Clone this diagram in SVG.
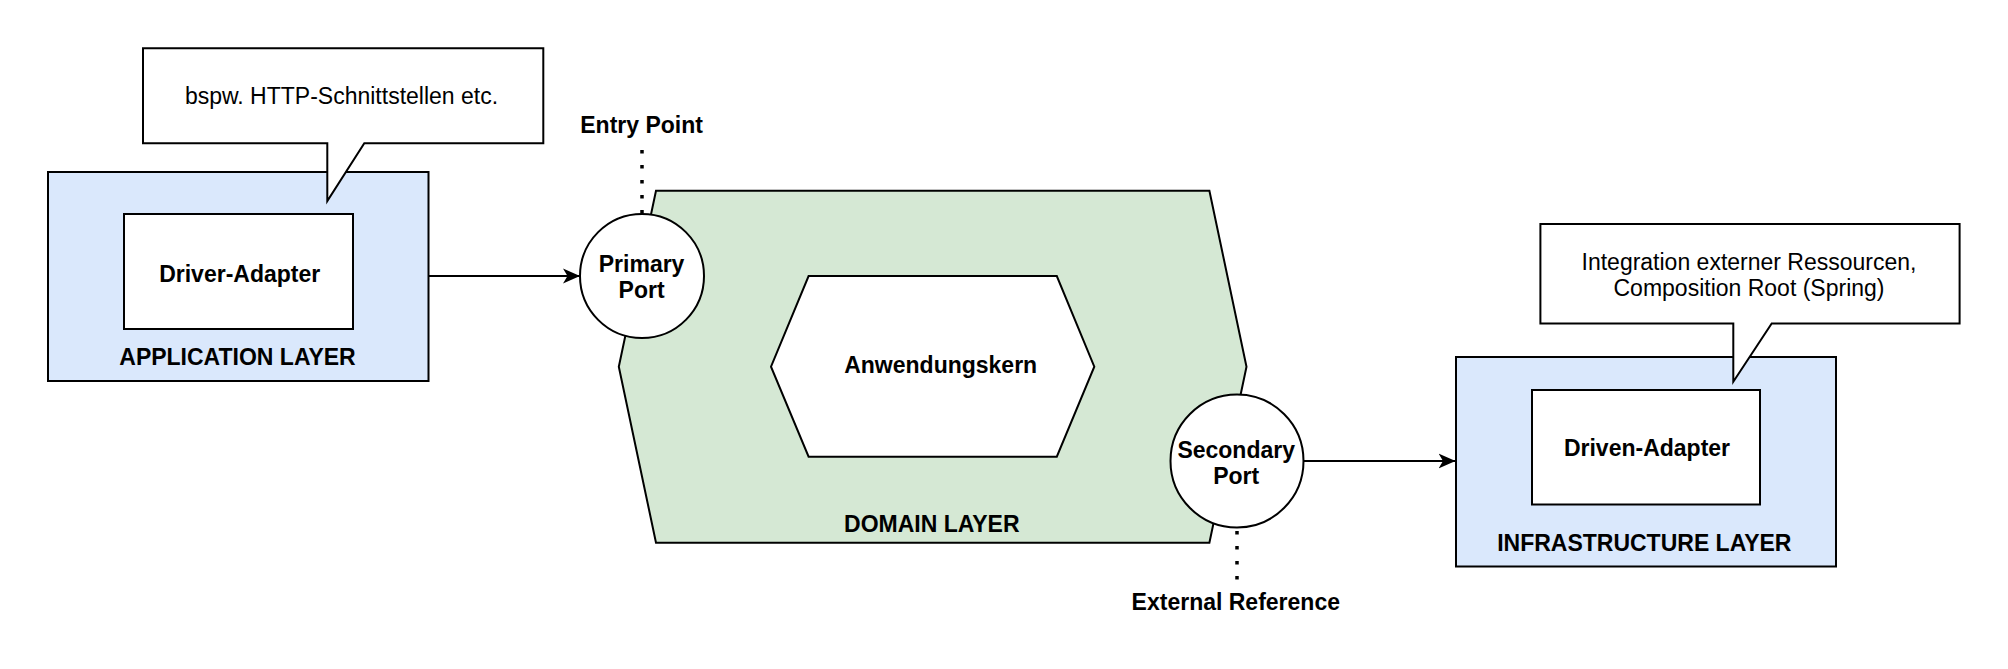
<svg xmlns="http://www.w3.org/2000/svg" width="2008" height="669" viewBox="0 0 2008 669">
<style>
.t{font-family:"Liberation Sans",Arial,sans-serif;font-size:23px;fill:#000;text-anchor:middle}
.b{font-weight:bold}
.s{stroke:#000;stroke-width:2}
.layer{fill:#dae8fc;stroke:#000;stroke-width:2}
.white{fill:#fff;stroke:#000;stroke-width:2}
.dot{stroke:#000;stroke-width:3.5;stroke-dasharray:3.5 11.5;fill:none}
</style>
<defs>
<marker id="arr" markerUnits="userSpaceOnUse" markerWidth="18" markerHeight="16" refX="17" refY="8" orient="auto">
<path d="M0,0.5 L17,8 L0,15.5 L4.5,8 Z" fill="#000"/>
</marker>
</defs>
<rect width="2008" height="669" fill="#fff"/>
<g id="application-layer">
<rect class="layer" x="48" y="172" width="380.5" height="209"/>
<text class="t b" x="237.5" y="365">APPLICATION LAYER</text>
</g>
<g id="driver-adapter">
<rect class="white" x="124" y="214" width="229" height="115"/>
<text class="t b" x="239.7" y="281.7">Driver-Adapter</text>
</g>
<g id="callout-http">
<path class="white" d="M143,48.3 H543.3 V143.3 H364.3 L327.3,201 V143.3 H143 Z"/>
<text class="t" x="341.5" y="104">bspw. HTTP-Schnittstellen etc.</text>
</g>
<g id="domain-layer">
<path d="M656,190.7 H1209.4 L1246.5,366.7 L1209.4,542.7 H656 L618.8,366.7 Z" fill="#d5e8d4" stroke="#000" stroke-width="2"/>
<text class="t b" x="931.8" y="531.7">DOMAIN LAYER</text>
</g>
<g id="anwendungskern">
<path class="white" d="M808.6,276 H1056.8 L1094.3,366.7 L1056.8,456.7 H808.6 L771,366.7 Z"/>
<text class="t b" x="940.7" y="372.7">Anwendungskern</text>
</g>
<g id="connectors">
<line class="s" x1="428.6" y1="276" x2="580" y2="276" marker-end="url(#arr)"/>
<line class="s" x1="1303.5" y1="461" x2="1455.5" y2="461" marker-end="url(#arr)"/>
<line class="dot" x1="642" y1="150" x2="642" y2="214"/>
<line class="dot" x1="1237" y1="531" x2="1237" y2="584"/>
</g>
<g id="primary-port">
<circle class="white" cx="642" cy="276" r="62"/>
<text class="t b" x="641.6" y="271.5">Primary</text>
<text class="t b" x="641.6" y="297.5">Port</text>
</g>
<g id="secondary-port">
<circle class="white" cx="1237" cy="461" r="66.5"/>
<text class="t b" x="1236.2" y="458.3">Secondary</text>
<text class="t b" x="1236.2" y="484">Port</text>
</g>
<g id="entry-point">
<text class="t b" x="641.6" y="133">Entry Point</text>
</g>
<g id="external-reference">
<text class="t b" x="1235.8" y="609.5">External Reference</text>
</g>
<g id="infrastructure-layer">
<rect class="layer" x="1456" y="357" width="380" height="209.5"/>
<text class="t b" x="1644.3" y="551">INFRASTRUCTURE LAYER</text>
</g>
<g id="driven-adapter">
<rect class="white" x="1532" y="390" width="228" height="114.5"/>
<text class="t b" x="1647" y="456">Driven-Adapter</text>
</g>
<g id="callout-integration">
<path class="white" d="M1540.4,224 H1959.6 V323.5 H1771.7 L1733.3,381.7 V323.5 H1540.4 Z"/>
<text class="t" x="1749" y="270">Integration externer Ressourcen,</text>
<text class="t" x="1749" y="296">Composition Root (Spring)</text>
</g>
</svg>
